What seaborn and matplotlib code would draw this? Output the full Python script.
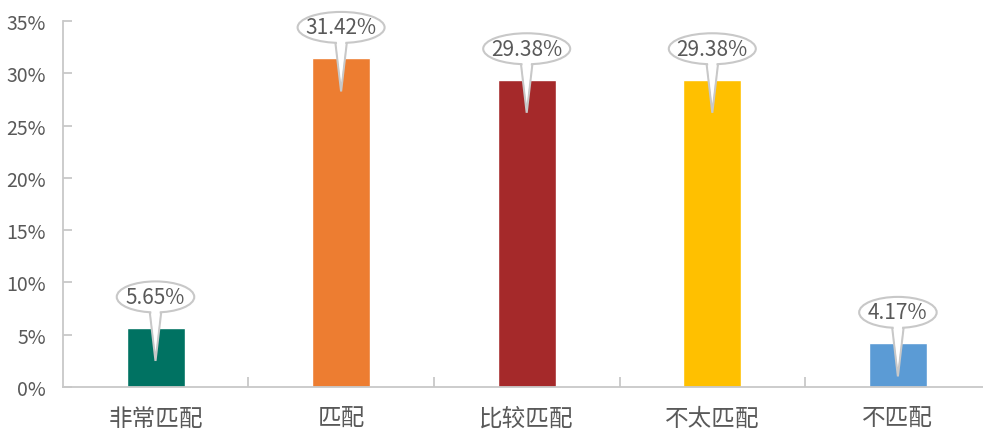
import matplotlib
matplotlib.use('Agg')
import matplotlib.pyplot as plt
import seaborn as sns
import pandas as pd
from matplotlib.patches import Ellipse, Polygon
from matplotlib.ticker import FuncFormatter, MultipleLocator

# data
categories = ['非常匹配', '匹配', '比较匹配', '不太匹配', '不匹配']
shares = [5.65, 31.42, 29.38, 29.38, 4.17]
bar_colors = ['#007262', '#ED7D31', '#A5292A', '#FFC000', '#5B9BD5']

df = pd.DataFrame({'cat': categories, 'share': shares})

sns.set_theme(style='white')
plt.rcParams['font.family'] = ['Noto Sans CJK SC', 'DejaVu Sans']

grey_txt = '#595959'
grey_line = '#C8C8C8'

fig = plt.figure(figsize=(9.83, 4.31), dpi=100)
ax = fig.add_axes([62.7 / 983, 1 - 388 / 431, 928 / 983, 366 / 431])

sns.barplot(data=df, x='cat', y='share', hue='cat', palette=bar_colors,
            width=0.3125, dodge=False, legend=False, saturation=1, ax=ax)

ax.set_xlim(-0.5, 4.5)
ax.set_ylim(0, 35)
ax.yaxis.set_major_locator(MultipleLocator(5))
ax.yaxis.set_major_formatter(FuncFormatter(lambda v, p: f'{v:.0f}%'))
ax.set_xlabel('')
ax.set_ylabel('')

for side in ['top', 'right']:
    ax.spines[side].set_visible(False)
for side in ['left', 'bottom']:
    ax.spines[side].set_color(grey_line)
    ax.spines[side].set_linewidth(1.3)

ax.tick_params(axis='y', direction='in', length=6.5, width=1.3, color=grey_line,
               labelsize=14, labelcolor=grey_txt, pad=12, left=True)
ax.tick_params(axis='x', which='major', length=0, labelsize=17,
               labelcolor=grey_txt, pad=14)
ax.set_xticks([i + 0.5 for i in range(len(categories))], minor=True)
ax.tick_params(axis='x', which='minor', direction='in', length=7, width=1.3,
               color=grey_line, bottom=True)
for t in ax.get_xticklabels() + ax.get_yticklabels():
    t.set_fontweight('light')

# callout bubbles above each bar
px_x = 5 / 928   # data units per pixel in x
px_y = 35 / 366  # data units per pixel in y
for i, v in enumerate(shares):
    label = f'{v:.2f}%'
    cy = v + 31 * px_y
    tip = v - 33 * px_y
    w = (30 + 9.5 * len(label)) * px_x
    h = 31 * px_y
    hw = 7.5 * px_x
    tail = Polygon([(i - hw, cy), (i, tip), (i + hw, cy)], closed=True,
                   facecolor='white', edgecolor=grey_line, lw=1.5, zorder=3,
                   clip_on=False)
    ax.add_patch(tail)
    ell = Ellipse((i, cy), w, h, facecolor='white', edgecolor=grey_line,
                  lw=1.5, zorder=4, clip_on=False)
    ax.add_patch(ell)
    cover = Polygon([(i - hw + 1.6 * px_x, cy), (i, tip + 12 * px_y),
                     (i + hw - 1.6 * px_x, cy)], closed=True,
                    facecolor='white', edgecolor='none', zorder=5,
                    clip_on=False)
    ax.add_patch(cover)
    ax.text(i, cy, label, ha='center', va='center', fontsize=15,
            fontweight='light', color=grey_txt, zorder=6)

fig.savefig('out.png', dpi=100)
